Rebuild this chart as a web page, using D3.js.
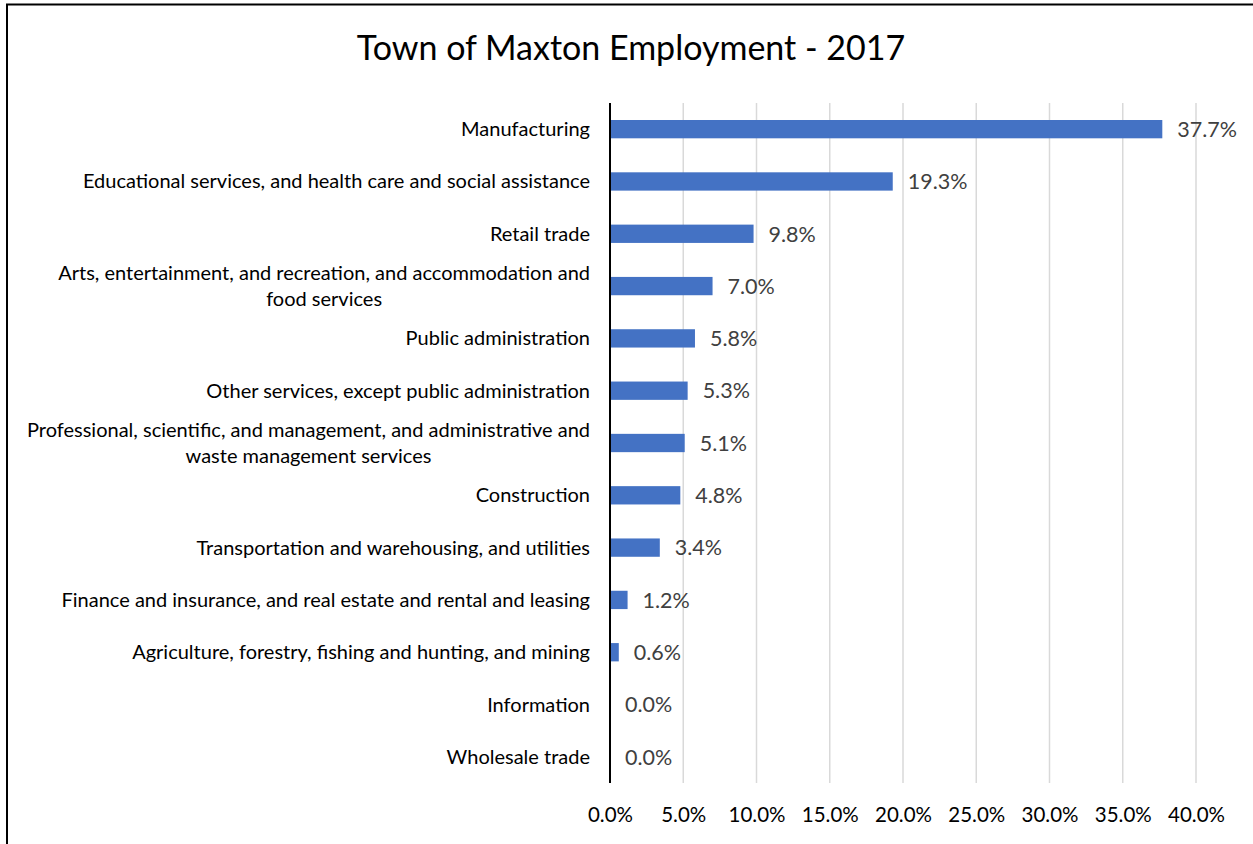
<!DOCTYPE html>
<html>
<head>
<meta charset="utf-8">
<script src="https://cdn.jsdelivr.net/npm/d3@7"></script>
<style>
  html, body { margin: 0; padding: 0; background: #fff; }
  svg { display: block; }
  text { font-family: Lato, "Open Sans", sans-serif; }
</style>
</head>
<body>
<svg id="chart" width="1253" height="844"></svg>
<script>
// Employment share by industry, Town of Maxton, 2017
const categories = [
  "Manufacturing",
  "Educational services, and health care and social assistance",
  "Retail trade",
  "Arts, entertainment, and recreation, and accommodation and\nfood services",
  "Public administration",
  "Other services, except public administration",
  "Professional, scientific, and management, and administrative and\nwaste management services",
  "Construction",
  "Transportation and warehousing, and utilities",
  "Finance and insurance, and real estate and rental and leasing",
  "Agriculture, forestry, fishing and hunting, and mining",
  "Information",
  "Wholesale trade"
];
const shares = [37.7, 19.3, 9.8, 7.0, 5.8, 5.3, 5.1, 4.8, 3.4, 1.2, 0.6, 0.0, 0.0];
const xTicks = [0, 5, 10, 15, 20, 25, 30, 35, 40];
const chartTitle = "Town of Maxton Employment - 2017";

const svg = d3.select("#chart");
const W = 1253, H = 844;
const plot = { left: 610, right: 1196, top: 103, bottom: 783 };

// outer frame (top and left edges visible)
svg.append("line").attr("x1", 6).attr("x2", W).attr("y1", 4.5).attr("y2", 4.5)
  .attr("stroke", "#000").attr("stroke-width", 2);
svg.append("line").attr("x1", 7).attr("x2", 7).attr("y1", 4).attr("y2", H)
  .attr("stroke", "#000").attr("stroke-width", 2);

const x = d3.scaleLinear().domain([0, 40]).range([plot.left, plot.right]);
const y = d3.scaleBand().domain(categories).range([plot.top, plot.bottom]).paddingInner(0.65).paddingOuter(0.325);

// title
svg.append("text")
  .attr("x", 631).attr("y", 60)
  .attr("text-anchor", "middle")
  .attr("font-size", 34)
  .attr("fill", "#000")
  .text(chartTitle);

// vertical gridlines
svg.append("g").selectAll("line")
  .data(xTicks.filter(t => t > 0))
  .join("line")
  .attr("x1", d => x(d)).attr("x2", d => x(d))
  .attr("y1", plot.top).attr("y2", plot.bottom)
  .attr("stroke", "#D9D9D9").attr("stroke-width", 1.5);

// x axis tick labels
const xAxis = d3.axisBottom(x).tickValues(xTicks).tickSize(0).tickPadding(0)
  .tickFormat(d => d.toFixed(1) + "%");
const gx = svg.append("g").attr("transform", `translate(0,${plot.bottom})`).call(xAxis);
gx.select(".domain").remove();
gx.selectAll("text")
  .attr("dy", null).attr("y", 39)
  .attr("font-size", 20.5).attr("fill", "#000")
  .style("font-family", "Lato, 'Open Sans', sans-serif");

// bars
svg.append("g").selectAll("rect")
  .data(shares)
  .join("rect")
  .attr("x", x(0))
  .attr("y", (d, i) => y(categories[i]))
  .attr("width", d => x(d) - x(0))
  .attr("height", y.bandwidth())
  .attr("fill", "#4472C4");

// value labels
svg.append("g").selectAll("text")
  .data(shares)
  .join("text")
  .attr("x", d => x(d) + 15)
  .attr("y", (d, i) => y(categories[i]) + y.bandwidth() / 2)
  .attr("dy", "0.36em")
  .attr("font-size", 21.5)
  .attr("fill", "#404040")
  .text(d => d.toFixed(1) + "%");

// category axis line and labels
svg.append("line")
  .attr("x1", plot.left).attr("x2", plot.left)
  .attr("y1", plot.top).attr("y2", plot.bottom)
  .attr("stroke", "#000").attr("stroke-width", 2);

const lineH = 26;
const labels = svg.append("g").selectAll("text")
  .data(categories)
  .join("text")
  .attr("font-size", 20)
  .attr("fill", "#000")
  .attr("text-anchor", "middle")
  .each(function (d) {
    const lines = d.split("\n");
    const el = d3.select(this);
    const cy = y(d) + y.bandwidth() / 2;
    const y0 = cy - (lines.length - 1) * lineH / 2;
    lines.forEach((ln, k) => {
      el.append("tspan").attr("y", y0 + k * lineH).attr("dy", "0.35em").text(ln);
    });
  });

// right-align each label block at the axis, centring wrapped lines within the block
labels.each(function () {
  const el = d3.select(this);
  const widths = el.selectAll("tspan").nodes().map(n => n.getComputedTextLength());
  const maxW = d3.max(widths);
  const cx = plot.left - 20 - maxW / 2;
  el.selectAll("tspan").attr("x", cx);
});
</script>
</body>
</html>
